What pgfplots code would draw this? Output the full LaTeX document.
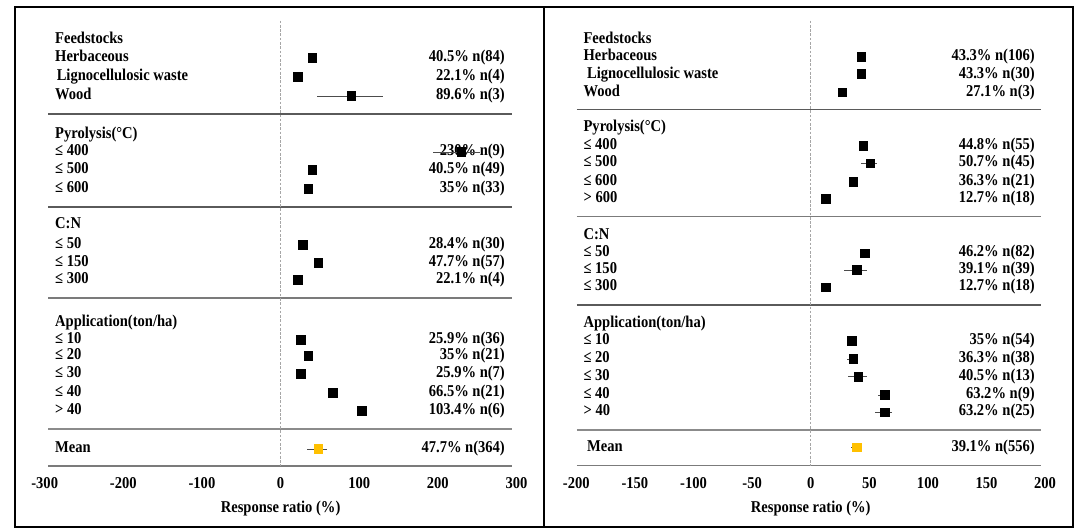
\documentclass[border=0pt]{standalone}
\usepackage{pgfplots}
\pgfplotsset{compat=1.18}
\usepackage{pgfplotstable}
\usepackage{fontspec}
\setmainfont{Liberation Serif}[FakeStretch=0.88]
\definecolor{sepgray}{HTML}{5A5A5A}
\definecolor{meanorange}{HTML}{FFC000}

% x = response ratio (%), y = -(row position), ep/em = CI half-widths
\pgfplotstableread{
x     y     ep    em
40.5  -58   0     0
22.1  -77   0     0
89.6  -96   40.4  43.6
230   -152  24    36
40.5  -170  0     0
35    -189  0     0
28.4  -245  0     0
47.7  -263  0     0
22.1  -280  0     0
25.9  -340  0     0
35    -356  0     0
25.9  -374  0     0
66.5  -393  0     0
103.4 -411  0     0
}\leftdata
\pgfplotstableread{
x     y     ep    em
47.7  -449  11.3  13.7
}\leftmean
\pgfplotstableread{
x     y      ep    em
43.3  -56.7  0     0
43.3  -74    0     0
27.1  -92.5  2.5   2.5
44.8  -145.7 0     0
50.7  -163.3 6.1   8.1
36.3  -181.7 0     0
12.7  -199   0     0
46.2  -253.3 0     0
39.1  -270   8.7   10.4
12.7  -287.3 0     0
35    -341   0     0
36.3  -359   4.3   5.0
40.5  -376.7 7.8   8.4
63.2  -395   4.2   6.2
63.2  -412.3 6.3   8.2
}\rightdata
\pgfplotstableread{
x     y      ep    em
39.1  -447.3 4.4   5.0
}\rightmean

\newcommand{\labfont}{\bfseries\fontsize{12.4}{14}\selectfont}
\tikzset{lab/.style={font=\labfont, inner sep=0pt}}
\pgfplotsset{
  fp/.style={
    scale only axis, clip=false,
    axis line style={draw=none}, tick style={draw=none},
    major tick length=0pt, ytick=\empty,
    ymin=-466, ymax=-20.7,
    xticklabel style={font=\labfont, anchor=base, yshift=-17pt},
  },
  pts/.style={only marks, mark=square*, mark size=3.2pt,
    mark options={fill=black, draw=black},
    error bars/.cd, x dir=both, x explicit, error mark=none,
    error bar style={black!70, line width=0.6pt}},
  meanpts/.style={only marks, mark=square*, mark size=3.2pt,
    mark options={fill=meanorange, draw=meanorange},
    error bars/.cd, x dir=both, x explicit, error mark=none,
    error bar style={black!70, line width=0.6pt}},
}

\begin{document}
\begin{tikzpicture}
\useasboundingbox (0,0) rectangle (812.25pt,398.25pt);
\fill[white] (0,0) rectangle (812.25pt,398.25pt);

% ---------------- left panel ----------------
\begin{axis}[fp, at={(33.525pt,48.75pt)}, anchor=south west,
  width=353.85pt, height=333.975pt,
  xmin=-300, xmax=300,
  xtick={-300,-200,-100,0,100,200,300},
  xticklabels={-300,-200,-100,0,100,200,300}]
  % labels
  \node[lab, anchor=mid west] at (axis cs:-287,-40) {Feedstocks};
  \node[lab, anchor=mid west] at (axis cs:-287,-58) {Herbaceous};
  \node[lab, anchor=mid west] at (axis cs:-285,-77) {Lignocellulosic waste};
  \node[lab, anchor=mid west] at (axis cs:-287,-96) {Wood};
  \node[lab, anchor=mid west] at (axis cs:-287,-135) {Pyrolysis(°C)};
  \node[lab, anchor=mid west] at (axis cs:-287,-152) {≤ 400};
  \node[lab, anchor=mid west] at (axis cs:-287,-170) {≤ 500};
  \node[lab, anchor=mid west] at (axis cs:-287,-189) {≤ 600};
  \node[lab, anchor=mid west] at (axis cs:-287,-225) {C:N};
  \node[lab, anchor=mid west] at (axis cs:-287,-245) {≤ 50};
  \node[lab, anchor=mid west] at (axis cs:-287,-263) {≤ 150};
  \node[lab, anchor=mid west] at (axis cs:-287,-280) {≤ 300};
  \node[lab, anchor=mid west] at (axis cs:-287,-323) {Application(ton/ha)};
  \node[lab, anchor=mid west] at (axis cs:-287,-340) {≤ 10};
  \node[lab, anchor=mid west] at (axis cs:-287,-356) {≤ 20};
  \node[lab, anchor=mid west] at (axis cs:-287,-374) {≤ 30};
  \node[lab, anchor=mid west] at (axis cs:-287,-393) {≤ 40};
  \node[lab, anchor=mid west] at (axis cs:-287,-411) {> 40};
  \node[lab, anchor=mid west] at (axis cs:-287,-449) {Mean};
  % values
  \node[lab, anchor=mid east] at (axis cs:285.5,-58) {40.5\% n(84)};
  \node[lab, anchor=mid east] at (axis cs:285.5,-77) {22.1\% n(4)};
  \node[lab, anchor=mid east] at (axis cs:285.5,-96) {89.6\% n(3)};
  \node[lab, anchor=mid east] at (axis cs:285.5,-152) {230\% n(9)};
  \node[lab, anchor=mid east] at (axis cs:285.5,-170) {40.5\% n(49)};
  \node[lab, anchor=mid east] at (axis cs:285.5,-189) {35\% n(33)};
  \node[lab, anchor=mid east] at (axis cs:285.5,-245) {28.4\% n(30)};
  \node[lab, anchor=mid east] at (axis cs:285.5,-263) {47.7\% n(57)};
  \node[lab, anchor=mid east] at (axis cs:285.5,-280) {22.1\% n(4)};
  \node[lab, anchor=mid east] at (axis cs:285.5,-340) {25.9\% n(36)};
  \node[lab, anchor=mid east] at (axis cs:285.5,-356) {35\% n(21)};
  \node[lab, anchor=mid east] at (axis cs:285.5,-374) {25.9\% n(7)};
  \node[lab, anchor=mid east] at (axis cs:285.5,-393) {66.5\% n(21)};
  \node[lab, anchor=mid east] at (axis cs:285.5,-411) {103.4\% n(6)};
  \node[lab, anchor=mid east] at (axis cs:285.5,-449) {47.7\% n(364)};
  % separators and zero line
  \addplot[sepgray, line width=0.8pt] coordinates {(-295.7,-114) (294.4,-114)};
  \addplot[sepgray, line width=0.8pt] coordinates {(-295.7,-207) (294.4,-207)};
  \addplot[sepgray!80, line width=0.8pt] coordinates {(-295.7,-298) (294.4,-298)};
  \addplot[sepgray!70, line width=0.9pt] coordinates {(-295.7,-429) (294.4,-429)};
  \addplot[sepgray!80, line width=1.1pt] coordinates {(-295.7,-466) (294.4,-466)};
  \addplot[gray!70, line width=0.5pt, dash pattern=on 2pt off 1.2pt] coordinates {(0,-20.7) (0,-466)};
  % points
  \addplot[pts] table[x=x, y=y, x error plus=ep, x error minus=em] {\leftdata};
  \addplot[meanpts] table[x=x, y=y, x error plus=ep, x error minus=em] {\leftmean};
  \node[lab] at (axis cs:0,-509) {Response ratio (\%)};
\end{axis}

% ---------------- right panel ----------------
\begin{axis}[fp, at={(432.225pt,48.75pt)}, anchor=south west,
  width=351.6pt, height=333.975pt,
  xmin=-200, xmax=200,
  xtick={-200,-150,-100,-50,0,50,100,150,200},
  xticklabels={-200,-150,-100,-50,0,50,100,150,200}]
  \node[lab, anchor=mid west] at (axis cs:-194,-40) {Feedstocks};
  \node[lab, anchor=mid west] at (axis cs:-194,-57) {Herbaceous};
  \node[lab, anchor=mid west] at (axis cs:-191,-75) {Lignocellulosic waste};
  \node[lab, anchor=mid west] at (axis cs:-194,-93) {Wood};
  \node[lab, anchor=mid west] at (axis cs:-194,-128) {Pyrolysis(°C)};
  \node[lab, anchor=mid west] at (axis cs:-194,-146) {≤ 400};
  \node[lab, anchor=mid west] at (axis cs:-194,-163.5) {≤ 500};
  \node[lab, anchor=mid west] at (axis cs:-194,-182) {≤ 600};
  \node[lab, anchor=mid west] at (axis cs:-194,-199) {> 600};
  \node[lab, anchor=mid west] at (axis cs:-194,-236) {C:N};
  \node[lab, anchor=mid west] at (axis cs:-194,-253) {≤ 50};
  \node[lab, anchor=mid west] at (axis cs:-194,-270) {≤ 150};
  \node[lab, anchor=mid west] at (axis cs:-194,-287) {≤ 300};
  \node[lab, anchor=mid west] at (axis cs:-194,-324) {Application(ton/ha)};
  \node[lab, anchor=mid west] at (axis cs:-194,-341) {≤ 10};
  \node[lab, anchor=mid west] at (axis cs:-194,-359) {≤ 20};
  \node[lab, anchor=mid west] at (axis cs:-194,-377) {≤ 30};
  \node[lab, anchor=mid west] at (axis cs:-194,-395) {≤ 40};
  \node[lab, anchor=mid west] at (axis cs:-194,-412) {> 40};
  \node[lab, anchor=mid west] at (axis cs:-191,-448) {Mean};
  \node[lab, anchor=mid east] at (axis cs:191.4,-57) {43.3\% n(106)};
  \node[lab, anchor=mid east] at (axis cs:191.4,-75) {43.3\% n(30)};
  \node[lab, anchor=mid east] at (axis cs:191.4,-93) {27.1\% n(3)};
  \node[lab, anchor=mid east] at (axis cs:191.4,-146) {44.8\% n(55)};
  \node[lab, anchor=mid east] at (axis cs:191.4,-163.5) {50.7\% n(45)};
  \node[lab, anchor=mid east] at (axis cs:191.4,-182) {36.3\% n(21)};
  \node[lab, anchor=mid east] at (axis cs:191.4,-199) {12.7\% n(18)};
  \node[lab, anchor=mid east] at (axis cs:191.4,-253) {46.2\% n(82)};
  \node[lab, anchor=mid east] at (axis cs:191.4,-270) {39.1\% n(39)};
  \node[lab, anchor=mid east] at (axis cs:191.4,-287) {12.7\% n(18)};
  \node[lab, anchor=mid east] at (axis cs:191.4,-341) {35\% n(54)};
  \node[lab, anchor=mid east] at (axis cs:191.4,-359) {36.3\% n(38)};
  \node[lab, anchor=mid east] at (axis cs:191.4,-377) {40.5\% n(13)};
  \node[lab, anchor=mid east] at (axis cs:191.4,-395) {63.2\% n(9)};
  \node[lab, anchor=mid east] at (axis cs:191.4,-412) {63.2\% n(25)};
  \node[lab, anchor=mid east] at (axis cs:191.4,-448) {39.1\% n(556)};
  \addplot[sepgray, line width=0.8pt] coordinates {(-199.5,-109.3) (196.8,-109.3)};
  \addplot[sepgray!80, line width=0.8pt] coordinates {(-199.5,-216.7) (196.8,-216.7)};
  \addplot[sepgray, line width=0.8pt] coordinates {(-199.5,-305) (196.8,-305)};
  \addplot[sepgray!70, line width=0.9pt] coordinates {(-199.5,-430) (196.8,-430)};
  \addplot[sepgray!80, line width=1.1pt] coordinates {(-199.5,-465.7) (196.8,-465.7)};
  \addplot[gray!70, line width=0.5pt, dash pattern=on 2pt off 1.2pt] coordinates {(0,-20.7) (0,-466)};
  \addplot[pts] table[x=x, y=y, x error plus=ep, x error minus=em] {\rightdata};
  \addplot[meanpts] table[x=x, y=y, x error plus=ep, x error minus=em] {\rightmean};
  \node[lab] at (axis cs:0,-509) {Response ratio (\%)};
\end{axis}

% outer frame with divider
\draw[line width=1.1pt] (11.25pt,3pt) rectangle (804.75pt,393pt);
\draw[line width=1.1pt] (408pt,3pt) -- (408pt,393pt);
\end{tikzpicture}
\end{document}
